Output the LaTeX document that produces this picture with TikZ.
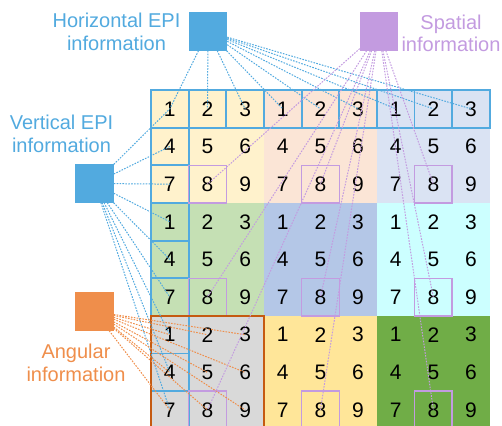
\documentclass[tikz,border=0pt]{standalone}
\usepackage{fontspec}
\setmainfont{Liberation Sans}
\definecolor{epiblue}{HTML}{52AADF}
\definecolor{spapurple}{HTML}{C39BE0}
\definecolor{angorange}{HTML}{EF8E4B}
\definecolor{angbrown}{HTML}{C55A11}
\definecolor{bA}{HTML}{FFF2CC}
\definecolor{bB}{HTML}{FBE5D6}
\definecolor{bC}{HTML}{DAE3F3}
\definecolor{bD}{HTML}{C5E0B4}
\definecolor{bE}{HTML}{B4C7E7}
\definecolor{bF}{HTML}{CCFFFF}
\definecolor{bG}{HTML}{D9D9D9}
\definecolor{bH}{HTML}{FFE699}
\definecolor{bI}{HTML}{70AD47}
\begin{document}
\begin{tikzpicture}[x=1pt,y=-1pt,
  cellnode/.style={minimum size=37.65pt,inner sep=0pt,outer sep=0pt,font=\fontsize{21}{21}\selectfont},
  infobox/.style={minimum size=38.5pt,inner sep=0pt,outer sep=0pt},
  infotext/.style={align=center,inner sep=0pt,font=\fontsize{20}{22.5}\selectfont},
  conn/.style={line width=1pt,dash pattern=on 1.6pt off 1.3pt},
  blueborder/.style={draw=epiblue,line width=1.8pt},
  purpleborder/.style={draw=spapurple,line width=1.5pt},
]
\useasboundingbox (0,0) rectangle (502,425);
\clip (0,0) rectangle (502,425);
\def\s{37.65}
% block fills
\foreach \br/\bc/\col in {0/0/bA,0/1/bB,0/2/bC,1/0/bD,1/1/bE,1/2/bF,2/0/bG,2/1/bH,2/2/bI}{
  \fill[\col] ({151+3*\bc*\s},{90+3*\br*\s}) rectangle ++({3*\s},{3*\s});
}
% cells
\foreach \r in {1,...,9}{
  \foreach \c in {1,...,9}{
    \pgfmathtruncatemacro{\d}{3*mod(\r-1,3)+mod(\c-1,3)+1}
    \node[cellnode] (c-\r-\c) at ({151+(\c-0.5)*\s},{90+(\r-0.5)*\s}) {\d};
  }
}
% blue borders: first row and first column
\foreach \c in {1,...,9}{
  \draw[blueborder] (c-1-\c.north west) rectangle (c-1-\c.south east);
}
\foreach \r in {2,...,9}{
  \draw[blueborder] (c-\r-1.north west) rectangle (c-\r-1.south east);
}
% purple borders: pixel 8 of each macro-pixel
\foreach \r in {3,6,9}{
  \foreach \c in {2,5,8}{
    \draw[purpleborder] (c-\r-\c.north west) rectangle (c-\r-\c.south east);
  }
}
% angular block border
\draw[draw=angbrown,line width=1.5pt] (c-7-1.north west) rectangle (c-9-3.south east);
% boxes
\node[infobox,fill=epiblue] (hbox) at (208,31.5) {};
\node[infobox,fill=spapurple] (sbox) at (379,31.5) {};
\node[infobox,fill=epiblue] (vbox) at (94.5,183.5) {};
\node[infobox,fill=angorange] (abox) at (94.5,311.5) {};
% labels
\node[infotext,text=epiblue] (hlab) at (116.5,32) {Horizontal EPI\\information};
\node[infotext,text=epiblue] (vlab) at (61.5,134) {Vertical EPI\\information};
\node[infotext,text=spapurple] (slab) at (451,33.5) {Spatial\\information};
\node[infotext,text=angorange] (alab) at (76,363) {Angular\\information};
% connectors
\foreach \c in {1,...,9}{
  \draw[conn,epiblue] (hbox) -- (c-1-\c.center);
}
\foreach \r in {1,...,9}{
  \draw[conn,epiblue] (vbox) -- (c-\r-1.center);
}
\foreach \r in {7,8,9}{
  \foreach \c in {1,2,3}{
    \draw[conn,angorange] (abox) -- (c-\r-\c.center);
  }
}
\foreach \r in {3,6,9}{
  \foreach \c in {2,5,8}{
    \draw[conn,spapurple] (sbox) -- (c-\r-\c.center);
  }
}
\end{tikzpicture}
\end{document}
